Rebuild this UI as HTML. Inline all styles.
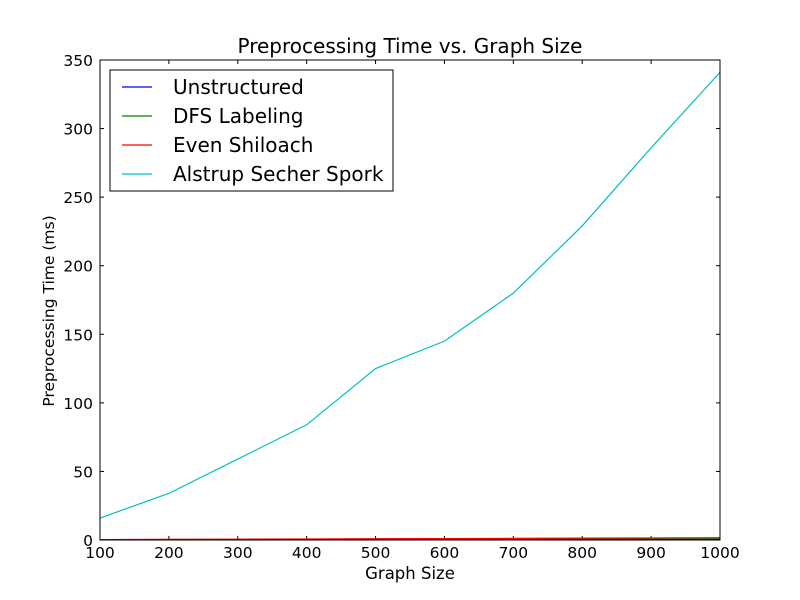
<!DOCTYPE html>
<html><head><meta charset="utf-8"><style>
body{margin:0;background:#fff;}
svg{display:block;font-family:"DejaVu Sans","Liberation Sans",sans-serif;}
</style></head><body>
<svg id="chart" width="800" height="600">
<rect x="0" y="0" width="800" height="600" fill="#fff"/>
<text x="410" y="53" font-size="20" text-anchor="middle">Preprocessing Time vs. Graph Size</text>
<text x="410" y="579" font-size="16.5" text-anchor="middle">Graph Size</text>
<text transform="translate(54,311) rotate(-90)" font-size="15.5" text-anchor="middle">Preprocessing Time (ms)</text>
<g id="ticks"></g>
<g id="series"></g>
<rect x="100" y="60" width="620" height="480" fill="none" stroke="#000" stroke-width="1"/>
<g id="legend">
<rect x="110" y="70" width="283" height="121" fill="#fff" stroke="#000" stroke-width="1"/>
</g>
</svg>
<script>
const xValues=[100,200,300,400,500,600,700,800,900,1000];
const unstructured=[0.05,0.1,0.15,0.2,0.25,0.3,0.35,0.4,0.45,0.5];
const dfsLabeling=[0.2,0.35,0.5,0.6,0.75,0.85,1.0,1.1,1.2,1.3];
const evenShiloach=[0.3,0.45,0.6,0.75,0.9,1.05,1.2,1.35,1.5,1.7];
const alstrup=[16,34,59,84,125,145,180,229,286,341];
const xTicks=[100,200,300,400,500,600,700,800,900,1000];
const yTicks=[0,50,100,150,200,250,300,350];
const seriesNames=["Unstructured","DFS Labeling","Even Shiloach","Alstrup Secher Spork"];
const seriesColors=["#0000ff","#008000","#ff0000","#00bfbf"];
const seriesData=[unstructured,dfsLabeling,evenShiloach,alstrup];
const NS="http://www.w3.org/2000/svg";
const X=v=>100+(v-100)/900*620;
const Y=v=>540-v/350*480;
function mk(t,a,p){const e=document.createElementNS(NS,t);for(const k in a)e.setAttribute(k,a[k]);p.appendChild(e);return e;}
const tk=document.getElementById('ticks');
xTicks.forEach(v=>{const x=X(v);
const l1=mk('line',{x1:x,x2:x,y1:540,y2:536,stroke:'#000'},tk);


const l2=mk('line',{x1:x,x2:x,y1:60,y2:64,stroke:'#000'},tk);


const t=mk('text',{x:x,y:558,'font-size':15.5,'text-anchor':'middle'},tk);t.textContent=v;

});
yTicks.forEach(v=>{const y=Y(v);
const l1=mk('line',{x1:100,x2:104,y1:y,y2:y,stroke:'#000'},tk);


const l2=mk('line',{x1:716,x2:720,y1:y,y2:y,stroke:'#000'},tk);


const t=mk('text',{x:93,y:y+6,'font-size':15.5,'text-anchor':'end'},tk);t.textContent=v;

});
const sg=document.getElementById('series');
seriesData.forEach((d,i)=>{const p=mk('polyline',{points:d.map((v,j)=>X(xValues[j])+','+Y(v)).join(' '),fill:'none',stroke:seriesColors[i],'stroke-width':1.2},sg);

});
const lg=document.getElementById('legend');
seriesNames.forEach((n,i)=>{const y=87+i*29;
const l=mk('line',{x1:122,x2:152,y1:y,y2:y,stroke:seriesColors[i],'stroke-width':1.2},lg);


const t=mk('text',{x:173,y:y+7,'font-size':20},lg);t.textContent=n;

});
</script>
</body></html>
